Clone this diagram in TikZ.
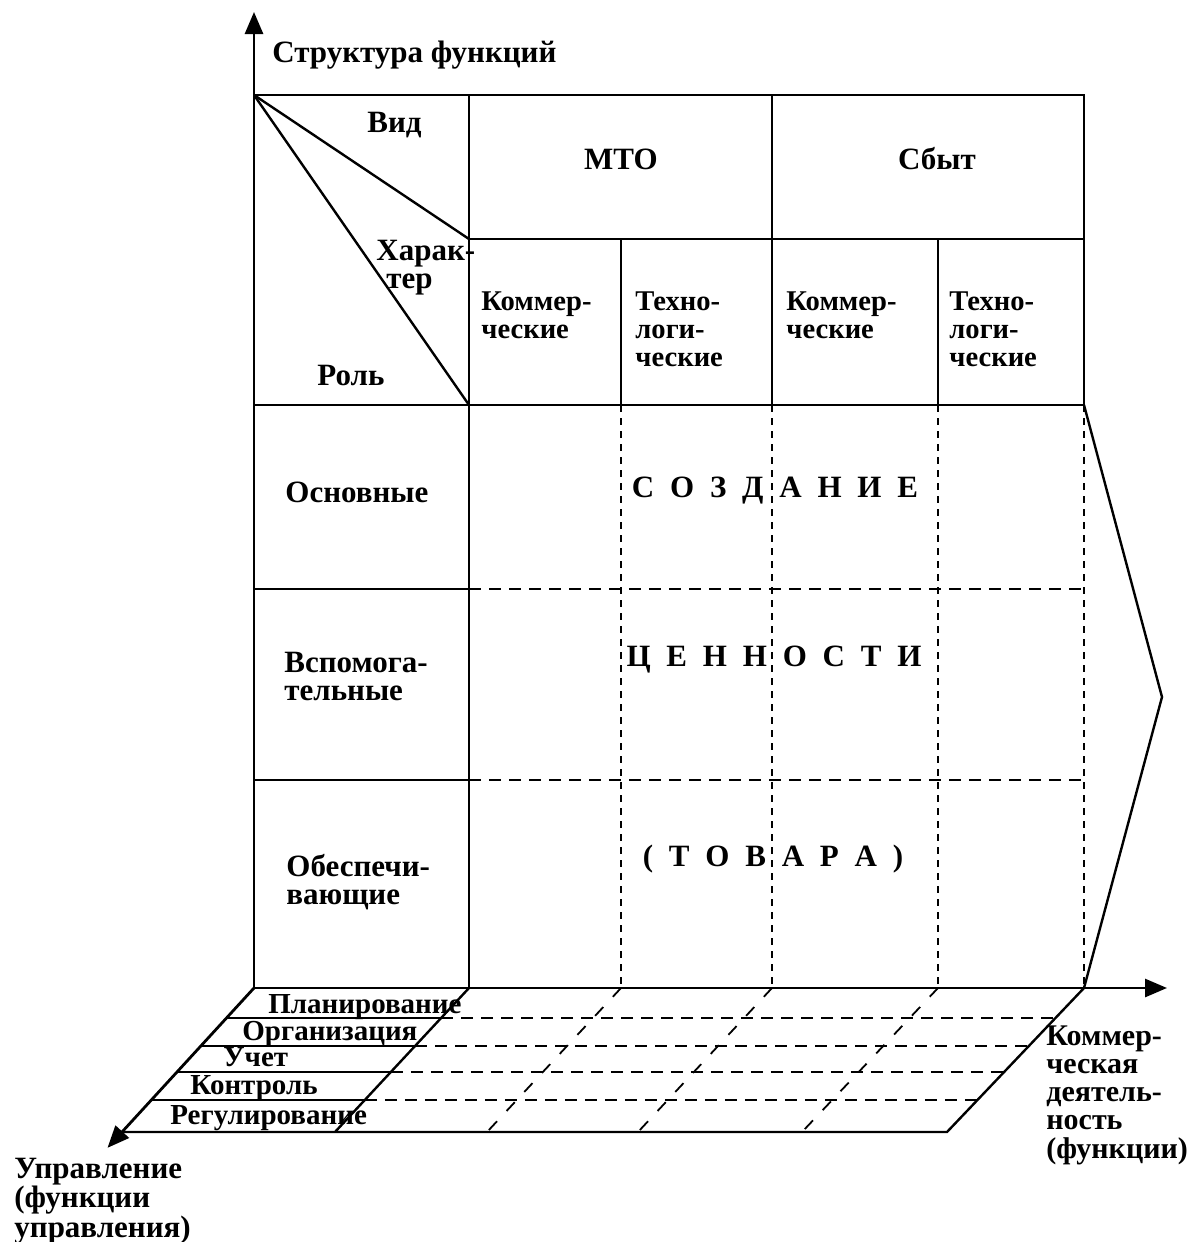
\documentclass[tikz,border=0pt]{standalone}
\usepackage{fontspec}
\setmainfont{Liberation Serif}
\usetikzlibrary{arrows.meta,calc}
% multi-line label whose baseline is that of its first line
\newcommand\stack[1]{\begin{tabular}[t]{@{}l@{}}#1\end{tabular}}
\newcommand\gap{\hspace{7.9pt}}
\begin{document}
\begin{tikzpicture}[x=0.5pt,y=-0.5pt,
  frameline/.style={line width=1.2pt},
  axisline/.style={line width=1.4pt,-{Triangle[length=11pt,width=9pt]}},
  vdash/.style={line width=0.9pt,dash pattern=on 3.5pt off 3pt},
  hdash/.style={line width=0.9pt,dash pattern=on 6pt off 4pt},
  ddash/.style={line width=0.9pt,dash pattern=on 6pt off 7pt},
  lbl/.style={font=\fontsize{15.5}{14}\selectfont\bfseries,inner sep=0pt,anchor=base west},
  clbl/.style={lbl,anchor=base},
  sublbl/.style={lbl,font=\fontsize{14.3}{14}\selectfont\bfseries},
  floorlbl/.style={lbl,font=\fontsize{14.5}{14}\selectfont\bfseries},
  axlbl/.style={lbl,font=\fontsize{15}{14}\selectfont\bfseries}]
\fill[white] (0,0) rectangle (1198,1242);
\useasboundingbox (0,0) rectangle (1198,1242);

% ---- table grid points
\coordinate (TL) at (254,95);
\coordinate (TR) at (1084,95);
\coordinate (C1t) at (469,95);
\coordinate (C3t) at (772,95);
\coordinate (S1) at (469,239);
\coordinate (S2) at (1084,239);
\coordinate (C2s) at (621,239);
\coordinate (C4s) at (938,239);
\coordinate (HL) at (254,405);
\coordinate (HR) at (1084,405);
\coordinate (C1h) at (469,405);
\coordinate (C2h) at (621,405);
\coordinate (C3h) at (772,405);
\coordinate (C4h) at (938,405);
\coordinate (R1l) at (254,589);
\coordinate (R1m) at (469,589);
\coordinate (R1r) at (1084,589);
\coordinate (R2l) at (254,780);
\coordinate (R2m) at (469,780);
\coordinate (R2r) at (1084,780);
\coordinate (O) at (254,988);
\coordinate (B1) at (469,988);
\coordinate (B2) at (621,988);
\coordinate (B3) at (772,988);
\coordinate (B4) at (938,988);
\coordinate (BR) at (1084,988);
\coordinate (apex) at (1162,697);
\coordinate (ytip) at (254,12);
\coordinate (xtip) at (1167,988);
% ---- floor (management functions) points
\coordinate (Ofr) at (122,1132);
\coordinate (F1) at (335,1132);
\coordinate (F2) at (487,1132);
\coordinate (F3) at (638,1132);
\coordinate (F4) at (802,1132);
\coordinate (FR) at (947,1132);
\coordinate (ztip) at ($(O)!1.11!(Ofr)$);

% ---- header
\draw[frameline] (TL) -- (TR) -- (HR) -- (HL);
\draw[frameline] (C1t) -- (B1);
\draw[frameline] (C3t) -- (C3h);
\draw[frameline] (S1) -- (S2);
\draw[frameline] (C2s) -- (C2h);
\draw[frameline] (C4s) -- (C4h);
\draw[frameline] (TL) -- (S1);
\draw[frameline] (TL) -- (C1h);
% ---- role rows
\draw[frameline] (R1l) -- (R1m);
\draw[frameline] (R2l) -- (R2m);
\draw[hdash] (R1m) -- (R1r);
\draw[hdash] (R2m) -- (R2r);
\draw[vdash] (C2h) -- (B2);
\draw[vdash] (C3h) -- (B3);
\draw[vdash] (C4h) -- (B4);
\draw[vdash] (HR) -- (BR);
% ---- value chevron
\draw[frameline] (HR) -- (apex) -- (BR);

% ---- floor
\draw[frameline] (Ofr) -- (FR) -- (BR);
\draw[frameline] (B1) -- (F1);
\foreach \t in {0.2083,0.4028,0.5833,0.7778}{
  \draw[frameline] ($(O)!\t!(Ofr)$) -- ($(B1)!\t!(F1)$);
  \draw[hdash] ($(B1)!\t!(F1)$) -- ($(BR)!\t!(FR)$);
}
\draw[ddash] (B2) -- (F2);
\draw[ddash] (B3) -- (F3);
\draw[ddash] (B4) -- (F4);

% ---- axes
\draw[axisline] (O) -- (ytip);
\draw[axisline] (O) -- (xtip);
\draw[axisline] (O) -- (ztip);

% ---- labels
\node[lbl] (ytitle) at (272,62) {Структура функций};
\node[lbl] (vid) at (367,132) {Вид};
\node[lbl] (har) at (376,260) {\stack{Харак-\\\hspace*{5pt}тер}};
\node[lbl] (rol) at (317,385) {Роль};
\node[clbl] (mto) at (621,169) {МТО};
\node[clbl] (sbyt) at (937,169) {Сбыт};
\node[sublbl] (k1) at (481,310) {\stack{Коммер-\\ческие}};
\node[sublbl] (t1) at (635,310) {\stack{Техно-\\логи-\\ческие}};
\node[sublbl] (k2) at (786,310) {\stack{Коммер-\\ческие}};
\node[sublbl] (t2) at (949,310) {\stack{Техно-\\логи-\\ческие}};
\node[lbl] (osn) at (285,502) {Основные};
\node[lbl] (vsp) at (284,672) {\stack{Вспомога-\\тельные}};
\node[lbl] (obe) at (286,876) {\stack{Обеспечи-\\вающие}};
\node[clbl] (w1) at (775,497) {С\gap О\gap З\gap Д\gap А\gap Н\gap И\gap Е};
\node[clbl] (w2) at (774,666) {Ц\gap Е\gap Н\gap Н\gap О\gap С\gap Т\gap И};
\node[clbl] (w3) at (773,866) {(\gap Т\gap О\gap В\gap А\gap Р\gap А\gap )};
\node[floorlbl] (m1) at (268,1013) {Планирование};
\node[floorlbl] (m2) at (242,1040) {Организация};
\node[floorlbl] (m3) at (223,1066) {Учет};
\node[floorlbl] (m4) at (190,1094) {Контроль};
\node[floorlbl] (m5) at (170,1124) {Регулирование};
\node[lbl] (zlabel) at (14,1178) {\stack{Управление\\(функции\\управления)}};
\node[axlbl] (xlabel) at (1046,1045) {\stack{Коммер-\\ческая\\деятель-\\ность\\(функции)}};
\end{tikzpicture}
\end{document}
